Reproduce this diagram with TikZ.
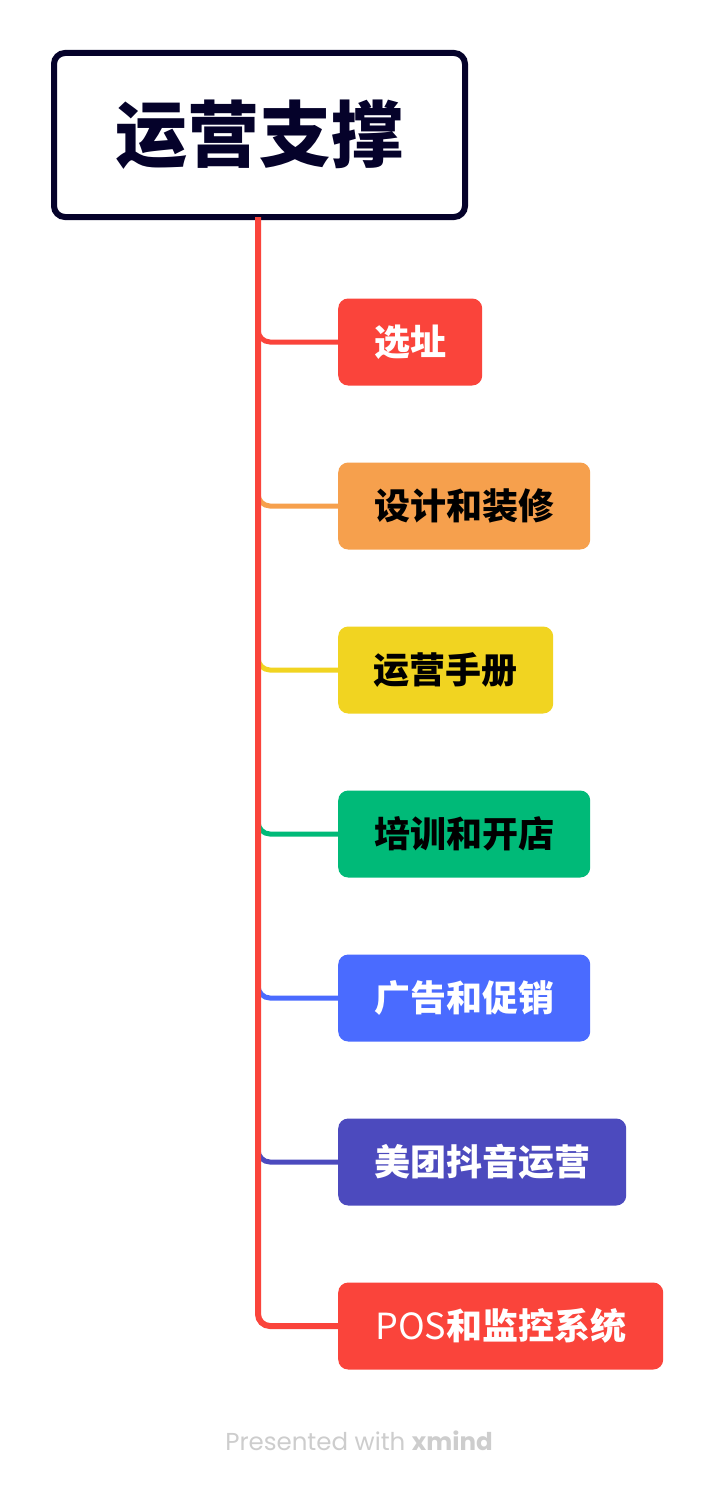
\documentclass[tikz,border=0pt]{standalone}
\usepackage{fontspec}
\newfontfamily\cjk{Noto Sans CJK SC}
\newfontfamily\footfont{Poppins}
\definecolor{cRed}{HTML}{FA443B}
\definecolor{cOrange}{HTML}{F6A04D}
\definecolor{cYellow}{HTML}{F1D421}
\definecolor{cGreen}{HTML}{00BA78}
\definecolor{cBlue}{HTML}{4A6BFF}
\definecolor{cPurple}{HTML}{4C4ABE}
\definecolor{cNavy}{HTML}{05022A}
\definecolor{cFoot}{HTML}{CDCDCD}
\tikzset{
  rootbox/.style={draw=cNavy, line width=6pt, fill=white, rounded corners=11pt,
    minimum width=411pt, minimum height=164pt, inner sep=0pt,
    font=\cjk\bfseries\fontsize{72}{80}\selectfont, text=cNavy},
  childbox/.style={rounded corners=10pt, minimum height=87pt, inner sep=0pt,
    anchor=west, font=\cjk\bfseries\fontsize{36}{40}\selectfont},
  branch/.style={line width=5pt, rounded corners=12pt},
  trunk/.style={line width=6pt, draw=cRed, rounded corners=12pt}
}
\begin{document}
\begin{tikzpicture}[x=1pt,y=-1pt]
\useasboundingbox (0,0) rectangle (714,1490);
\fill[white] (0,0) rectangle (714,1490);

\node[rootbox] (root) at (259.5,135) {运营支撑};

\node[childbox, fill=cRed, text=white, minimum width=144pt] (c1) at (338,342) {选址};
\node[childbox, fill=cOrange, text=black, minimum width=252pt] (c2) at (338,506) {设计和装修};
\node[childbox, fill=cYellow, text=black, minimum width=215pt] (c3) at (338,670) {运营手册};
\node[childbox, fill=cGreen, text=black, minimum width=252pt] (c4) at (338,834) {培训和开店};
\node[childbox, fill=cBlue, text=white, minimum width=252pt] (c5) at (338,998) {广告和促销};
\node[childbox, fill=cPurple, text=white, minimum width=288pt] (c6) at (338,1162) {美团抖音运营};
\node[childbox, fill=cRed, text=white, minimum width=325pt] (c7) at (338,1326) {{\mdseries POS}和监控系统};

\coordinate (t1) at (258,320);
\coordinate (t2) at (258,484);
\coordinate (t3) at (258,648);
\coordinate (t4) at (258,812);
\coordinate (t5) at (258,976);
\coordinate (t6) at (258,1140);

\draw[branch, cRed] (t1) |- (c1.west);
\draw[branch, cOrange] (t2) |- (c2.west);
\draw[branch, cYellow] (t3) |- (c3.west);
\draw[branch, cGreen] (t4) |- (c4.west);
\draw[branch, cBlue] (t5) |- (c5.west);
\draw[branch, cPurple] (t6) |- (c6.west);

\draw[trunk] (root.south) ++(-1.5,-3) |- (c7.west);

\node[font=\footfont\fontsize{24.5}{28}\selectfont, text=cFoot] (foot) at (359,1441) {Presented with \textbf{xmind}};
\end{tikzpicture}
\end{document}
